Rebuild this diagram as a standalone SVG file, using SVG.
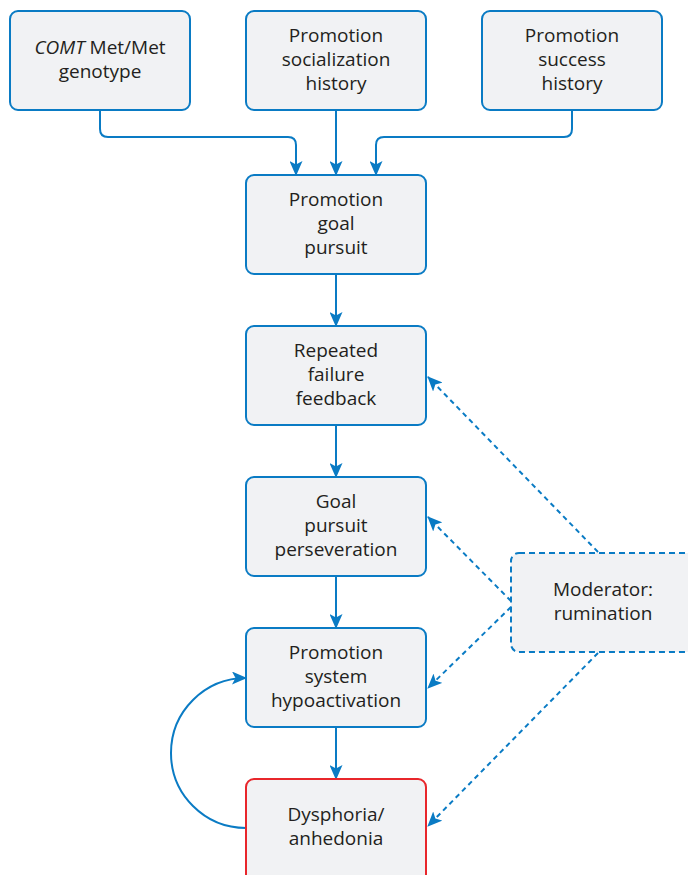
<svg xmlns="http://www.w3.org/2000/svg" width="688" height="875" viewBox="0 0 688 875">
<style>
.box{fill:#f1f2f4;stroke:#0a7bc4;stroke-width:2}
.red{stroke:#e8262b}
.dash{stroke-dasharray:6,4}
.t{font-family:"Open Sans","Noto Sans",sans-serif;font-size:19px;fill:#231f20;text-anchor:middle}
.c{fill:none;stroke:#0a7bc4;stroke-width:2}
.cd{fill:none;stroke:#0a7bc4;stroke-width:2;stroke-dasharray:5,4}
</style>
<defs>
<marker id="ah" viewBox="0 0 15 13" refX="14" refY="6.5" markerWidth="15" markerHeight="13" markerUnits="userSpaceOnUse" orient="auto">
<path d="M0,0 L15,6.5 L0,13 L3.5,6.5 Z" fill="#0a7bc4"/>
</marker>
</defs>
<rect width="688" height="875" fill="#ffffff"/>
<g id="connectors">
<path class="c" d="M100,110 V129 Q100,137 108,137 H288 Q296,137 296,145 V175" marker-end="url(#ah)"/>
<path class="c" d="M336,110 V175" marker-end="url(#ah)"/>
<path class="c" d="M572,110 V129 Q572,137 564,137 H384 Q376,137 376,145 V175" marker-end="url(#ah)"/>
<path class="c" d="M336,274 V326" marker-end="url(#ah)"/>
<path class="c" d="M336,425 V477" marker-end="url(#ah)"/>
<path class="c" d="M336,576 V628" marker-end="url(#ah)"/>
<path class="c" d="M336,727 V779" marker-end="url(#ah)"/>
<path class="c" d="M246,828 A75,75 0 0 1 246,678" marker-end="url(#ah)"/>
<path class="cd" d="M598,552 L428,377" marker-end="url(#ah)"/>
<path class="cd" d="M511,601 L428,517" marker-end="url(#ah)"/>
<path class="cd" d="M511,607 L428,688" marker-end="url(#ah)"/>
<path class="cd" d="M598,653 L428,826" marker-end="url(#ah)"/>
</g>
<g id="comt">
<rect class="box" x="10" y="11" width="180" height="99" rx="8"/>
<text class="t" x="100" y="54"><tspan font-style="italic">COMT</tspan> Met/Met</text>
<text class="t" x="100" y="78">genotype</text>
</g>
<g id="socialization">
<rect class="box" x="246" y="11" width="180" height="99" rx="8"/>
<text class="t" x="336" y="42">Promotion</text>
<text class="t" x="336" y="66">socialization</text>
<text class="t" x="336" y="90">history</text>
</g>
<g id="success">
<rect class="box" x="482" y="11" width="180" height="99" rx="8"/>
<text class="t" x="572" y="42">Promotion</text>
<text class="t" x="572" y="66">success</text>
<text class="t" x="572" y="90">history</text>
</g>
<g id="goal">
<rect class="box" x="246" y="175" width="180" height="99" rx="8"/>
<text class="t" x="336" y="206">Promotion</text>
<text class="t" x="336" y="230">goal</text>
<text class="t" x="336" y="254">pursuit</text>
</g>
<g id="failure">
<rect class="box" x="246" y="326" width="180" height="99" rx="8"/>
<text class="t" x="336" y="357">Repeated</text>
<text class="t" x="336" y="381">failure</text>
<text class="t" x="336" y="405">feedback</text>
</g>
<g id="perseveration">
<rect class="box" x="246" y="477" width="180" height="99" rx="8"/>
<text class="t" x="336" y="508">Goal</text>
<text class="t" x="336" y="532">pursuit</text>
<text class="t" x="336" y="556">perseveration</text>
</g>
<g id="hypoactivation">
<rect class="box" x="246" y="628" width="180" height="99" rx="8"/>
<text class="t" x="336" y="659">Promotion</text>
<text class="t" x="336" y="683">system</text>
<text class="t" x="336" y="707">hypoactivation</text>
</g>
<g id="dysphoria">
<rect class="box red" x="246" y="779" width="180" height="110" rx="8"/>
<text class="t" x="336" y="821">Dysphoria/</text>
<text class="t" x="336" y="845">anhedonia</text>
</g>
<g id="moderator">
<rect class="box dash" x="511" y="553" width="200" height="99" rx="8"/>
<text class="t" x="603" y="596">Moderator:</text>
<text class="t" x="603" y="620">rumination</text>
</g>
</svg>
